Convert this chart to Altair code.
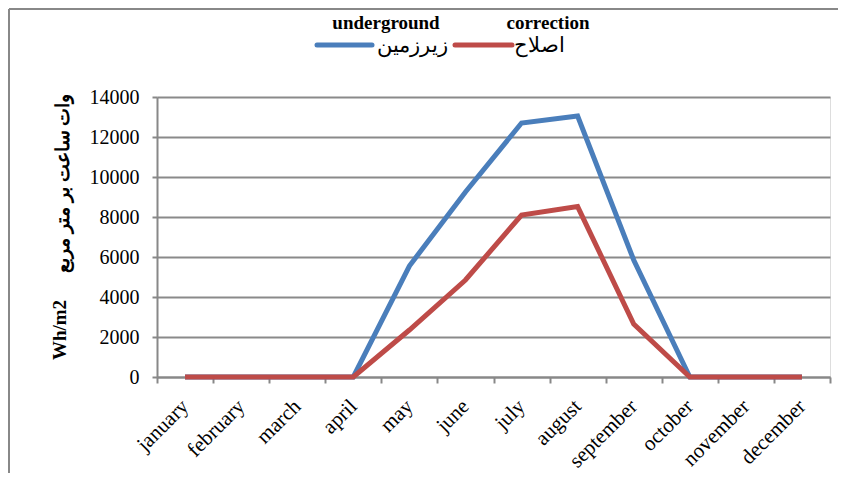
import altair as alt
import pandas as pd

months = ["january", "february", "march", "april", "may", "june", "july",
          "august", "september", "october", "november", "december"]
underground = [0, 0, 0, 0, 5550, 9250, 12700, 13050, 5850, 0, 0, 0]
correction = [0, 0, 0, 0, 2350, 4850, 8100, 8520, 2650, 0, 0, 0]
series_names = ["underground", "correction"]
series_colors = ["#4A7EBB", "#BE4B48"]
y_ticks = [0, 2000, 4000, 6000, 8000, 10000, 12000, 14000]

rows = []
for name, vals in zip(series_names, [underground, correction]):
    for m, v in zip(months, vals):
        rows.append({"month": m, "value": v, "series": name})
df = pd.DataFrame(rows)

FONT = "Liberation Serif, Times New Roman, serif"
W, H = 673, 280

x_enc = alt.X("month:N", sort=months,
              scale=alt.Scale(type="band", paddingInner=0, paddingOuter=0),
              axis=alt.Axis(title=None, labelAngle=-45, labelAlign="right",
                            labelBaseline="middle", labelPadding=20,
                            labelFont=FONT, labelFontSize=21, labelColor="black",
                            tickBand="extent", ticks=True, tickSize=6,
                            tickColor="#888888", tickWidth=2,
                            domainColor="#888888", domainWidth=2, grid=False))
y_enc = alt.Y("value:Q", scale=alt.Scale(domain=[0, 14000], nice=False),
              axis=alt.Axis(title=None, values=y_ticks, format="d",
                            labelFont=FONT, labelFontSize=20, labelColor="black",
                            labelPadding=13, tickSize=5, tickColor="#888888",
                            tickWidth=2, domainColor="#888888", domainWidth=2,
                            gridColor="#8A8A8A", gridWidth=2))

lines = alt.Chart(df).mark_line(strokeWidth=5).encode(
    x=x_enc, y=y_enc,
    color=alt.Color("series:N", sort=series_names,
                    scale=alt.Scale(domain=series_names, range=series_colors),
                    legend=None),
)

# legend pieces
leg_title_df = pd.DataFrame({"t": series_names, "x": [229, 391]})
leg_titles = alt.Chart(leg_title_df).mark_text(
    font=FONT, fontSize=19, fontWeight="bold", align="center", baseline="middle",
    color="black").encode(x=alt.X("x:Q", scale=None), y=alt.value(-74), text="t:N")

leg_lines_df = pd.DataFrame({"s": series_names, "x": [160, 298], "x2": [215, 355]})
leg_lines = alt.Chart(leg_lines_df).mark_rule(strokeWidth=5, strokeCap="round").encode(
    x=alt.X("x:Q", scale=None), x2="x2:Q", y=alt.value(-52),
    color=alt.Color("s:N", scale=alt.Scale(domain=series_names, range=series_colors),
                    legend=None))

leg_fa_df = pd.DataFrame({"t": ["زیرزمین", "اصلاح"], "x": [220, 357]})
leg_fa = alt.Chart(leg_fa_df).mark_text(
    font=FONT, fontSize=21, align="left", baseline="middle", color="black"
).encode(x=alt.X("x:Q", scale=None), y=alt.value(-51), text="t:N")

# y axis title pieces
ytitle_df = pd.DataFrame({"t": ["Wh/m2", "وات ساعت بر متر مربع"],
                          "x": [-97, -94], "y": [233, 86]})
ytitle = alt.Chart(ytitle_df).mark_text(
    font=FONT, fontSize=19, fontWeight="bold", angle=270, align="center",
    baseline="middle", color="black"
).encode(x=alt.X("x:Q", scale=None), y=alt.Y("y:Q", scale=None), text="t:N")

# outer frame lines (left and top)
frame_left = alt.Chart(pd.DataFrame({"a": [0]})).mark_rule(
    color="#888888", strokeWidth=2).encode(
    x=alt.value(-148), y=alt.value(-88), y2=alt.value(400))
frame_top = alt.Chart(pd.DataFrame({"a": [0]})).mark_rule(
    color="#888888", strokeWidth=2).encode(
    x=alt.value(-148), x2=alt.value(700), y=alt.value(-88))

chart = alt.layer(lines, leg_titles, leg_lines, leg_fa, ytitle, frame_left, frame_top
).resolve_scale(color="independent").properties(
    width=W, height=H,
    padding={"left": 149, "top": 89, "right": 8, "bottom": 96},
    autosize=alt.AutoSizeParams(type="none"),
).configure_view(stroke=None).configure(background="white")

chart.save("out.html", embed_options={"renderer": "svg", "actions": False})
